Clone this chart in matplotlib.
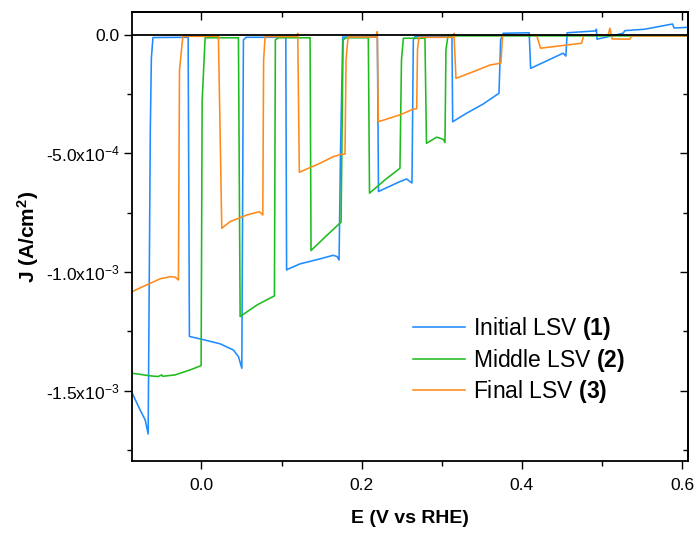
import matplotlib
matplotlib.use("Agg")
import matplotlib.pyplot as plt
from matplotlib.ticker import FixedLocator, MultipleLocator

plt.rcParams['font.family'] = ['Liberation Sans', 'DejaVu Sans']
plt.rcParams['mathtext.fontset'] = 'custom'
plt.rcParams['mathtext.rm'] = 'Liberation Sans'
plt.rcParams['mathtext.it'] = 'Liberation Sans:italic'
plt.rcParams['mathtext.bf'] = 'Liberation Sans:bold'
plt.rcParams['mathtext.default'] = 'regular'

# ---------------- data (E in V vs RHE, J in A/cm^2) ----------------
initial_E = [-0.0864, -0.0765, -0.0702, -0.0665, -0.0638, -0.0625, -0.0605,
             -0.0166, -0.0150, 0.0005, 0.0233, 0.0399, 0.0462, 0.0504,
             0.0524, 0.0558, 0.1053, 0.1063, 0.1081, 0.1231, 0.1480, 0.1643,
             0.1693, 0.1718, 0.1736, 0.1764, 0.2196, 0.2210, 0.2479, 0.2562,
             0.2603, 0.2628, 0.2645, 0.2666, 0.3127, 0.3136, 0.3310, 0.3518,
             0.3714, 0.3735, 0.3767, 0.4091, 0.4109, 0.4515, 0.4549, 0.4565,
             0.4922, 0.4930, 0.4938, 0.5263, 0.5285, 0.5534, 0.5880, 0.5900,
             0.6070]
initial_J = [-1.511e-3, -1.582e-3, -1.624e-3, -1.683e-3, -4.0e-4, -1.0e-4, -1.2e-5,
             -1.1e-5, -1.272e-3, -1.284e-3, -1.303e-3, -1.329e-3, -1.357e-3, -1.406e-3,
             -2.2e-5, -1.1e-5, -1.1e-5, -9.92e-4, -9.88e-4, -9.66e-4, -9.45e-4, -9.30e-4,
             -9.35e-4, -9.50e-4, -4.9e-4, -1.0e-5, -1.0e-5, -6.61e-4, -6.19e-4, -6.08e-4,
             -6.19e-4, -6.25e-4, -2.2e-5, -8e-6, -8e-6, -3.67e-4, -3.31e-4, -2.92e-4,
             -2.47e-4, -2.2e-5, 6e-6, 8e-6, -1.42e-4, -0.78e-4, -0.90e-4, 8e-6,
             1.6e-5, 2.3e-5, -1.9e-5, 6e-6, 1.7e-5, 2.3e-5, 4.5e-5, 2.8e-5,
             3.1e-5]

middle_E = [-0.0864, -0.0640, -0.0540, -0.0496, -0.0484, -0.0328, -0.0141, -0.0004,
            0.0009, 0.0046, 0.0462, 0.0483, 0.0695, 0.0911, 0.0923, 0.0960,
            0.1356, 0.1368, 0.1543, 0.1743, 0.1768, 0.1805, 0.2083, 0.2098,
            0.2291, 0.2478, 0.2497, 0.2520, 0.2790, 0.2809, 0.2936, 0.3019,
            0.3040, 0.3052, 0.3077, 0.6070]
middle_J = [-1.427e-3, -1.438e-3, -1.441e-3, -1.434e-3, -1.440e-3, -1.434e-3, -1.413e-3, -1.395e-3,
            -2.8e-4, -1.3e-5, -1.3e-5, -1.188e-3, -1.139e-3, -1.101e-3, -2.2e-5, -1.3e-5,
            -1.3e-5, -9.10e-4, -8.53e-4, -7.90e-4, -2.2e-5, -1.3e-5, -1.3e-5, -6.68e-4,
            -6.12e-4, -5.63e-4, -1.07e-4, -1.5e-5, -1.5e-5, -4.58e-4, -4.32e-4, -4.41e-4,
            -4.55e-4, -6.4e-5, -5e-6, -5e-6]

final_E = [-0.0864, -0.0764, -0.0640, -0.0515, -0.0390, -0.0328, -0.0287,
           -0.0274, -0.0232, 0.0212, 0.0254, 0.0358, 0.0566, 0.0723, 0.0766,
           0.0776, 0.0795, 0.1194, 0.1202, 0.1222, 0.1480, 0.1646, 0.1751, 0.1792,
           0.1805, 0.1830, 0.2184, 0.2195, 0.2208, 0.2478, 0.2644, 0.2687,
           0.2697, 0.2715, 0.3143, 0.3152, 0.3177, 0.3393, 0.3601, 0.3738,
           0.3759, 0.4184, 0.4233, 0.4745, 0.4774, 0.5077, 0.5098, 0.5127,
           0.5347, 0.5372, 0.6070]
final_J = [-1.083e-3, -1.067e-3, -1.048e-3, -1.029e-3, -1.020e-3, -1.022e-3, -1.034e-3,
           -1.49e-4, -7e-6, -7e-6, -8.16e-4, -7.88e-4, -7.60e-4, -7.46e-4, -7.60e-4,
           -1.07e-4, -8e-6, -8e-6, 6e-6, -5.80e-4, -5.42e-4, -5.14e-4, -5.04e-4, -5.03e-4,
           -1.07e-4, -1.0e-5, -1.0e-5, 1.3e-5, -3.67e-4, -3.38e-4, -3.14e-4, -3.12e-4,
           -6.4e-5, -1.1e-5, -1.1e-5, 6e-6, -1.84e-4, -1.56e-4, -1.28e-4, -1.20e-4,
           -1e-6, -2e-6, -5.7e-5, -3.6e-5, -1e-6, -1e-6, 2.7e-5, -1.8e-5,
           -1.9e-5, -5e-6, -5e-6]

series_labels = [r'Initial LSV $\mathbf{(1)}$', r'Middle LSV $\mathbf{(2)}$',
                 r'Final LSV $\mathbf{(3)}$']
series_colors = ['#1e8cff', '#1fbb1f', '#ff8a1a']

x_ticks = [0.0, 0.2, 0.4, 0.6]
x_ticklabels = ['0.0', '0.2', '0.4', '0.6']
y_ticks = [-1.5e-3, -1.0e-3, -5.0e-4, 0.0]
y_ticklabels = [r'-1.5x10$^{-3}$', r'-1.0x10$^{-3}$', r'-5.0x10$^{-4}$', '0.0']

# ---------------- figure ----------------
fig = plt.figure(figsize=(6.97, 5.34), dpi=100)
ax = fig.add_axes([0.1890, 0.1358, 0.7977, 0.8412])

for E, J, lab, col in zip([initial_E, middle_E, final_E],
                          [initial_J, middle_J, final_J],
                          series_labels, series_colors):
    ax.plot(E, J, color=col, lw=1.15, label=lab)

ax.axhline(0, color='black', lw=1.3, zorder=5)

ax.set_xlim(-0.087, 0.607)
ax.set_ylim(-1.799e-3, 0.944e-4)

ax.xaxis.set_major_locator(FixedLocator(x_ticks))
ax.set_xticklabels(x_ticklabels)
ax.xaxis.set_minor_locator(MultipleLocator(0.1))
ax.yaxis.set_major_locator(FixedLocator(y_ticks))
ax.set_yticklabels(y_ticklabels)
ax.yaxis.set_minor_locator(MultipleLocator(2.5e-4))

ax.tick_params(which='major', direction='out', length=6, width=1.0, labelsize=12.5)
ax.tick_params(axis='x', which='major', pad=6)
ax.tick_params(axis='y', which='major', pad=3)
ax.tick_params(which='minor', direction='out', length=3.5, width=1.0)

for s in ax.spines.values():
    s.set_linewidth(1.3)

# top / right inward ticks
secx = ax.secondary_xaxis('top')
secx.xaxis.set_major_locator(FixedLocator(x_ticks))
secx.xaxis.set_minor_locator(MultipleLocator(0.1))
secx.tick_params(which='major', direction='in', length=6, width=1.0, labeltop=False)
secx.tick_params(which='minor', direction='in', length=3.5, width=1.0)
secx.spines['top'].set_linewidth(1.3)
secy = ax.secondary_yaxis('right')
secy.yaxis.set_major_locator(FixedLocator(y_ticks))
secy.yaxis.set_minor_locator(MultipleLocator(2.5e-4))
secy.tick_params(which='major', direction='in', length=6, width=1.0, labelright=False)
secy.tick_params(which='minor', direction='in', length=3.5, width=1.0)
secy.spines['right'].set_linewidth(1.3)

ax.set_xlabel('E (V vs RHE)', fontsize=14, fontweight='bold')
ax.set_ylabel(r'J (A/cm$^\mathbf{2}$)', fontsize=15, fontweight='bold')
ax.xaxis.set_label_coords(0.5, -0.108)
ax.yaxis.set_label_coords(-0.163, 0.5)

leg = ax.legend(loc='upper left', bbox_to_anchor=(0.506, 0.326), frameon=False,
                fontsize=16.5, handlelength=2.27, handletextpad=0.35,
                labelspacing=0.2, borderpad=0, borderaxespad=0)

fig.savefig('out.png', dpi=100)
